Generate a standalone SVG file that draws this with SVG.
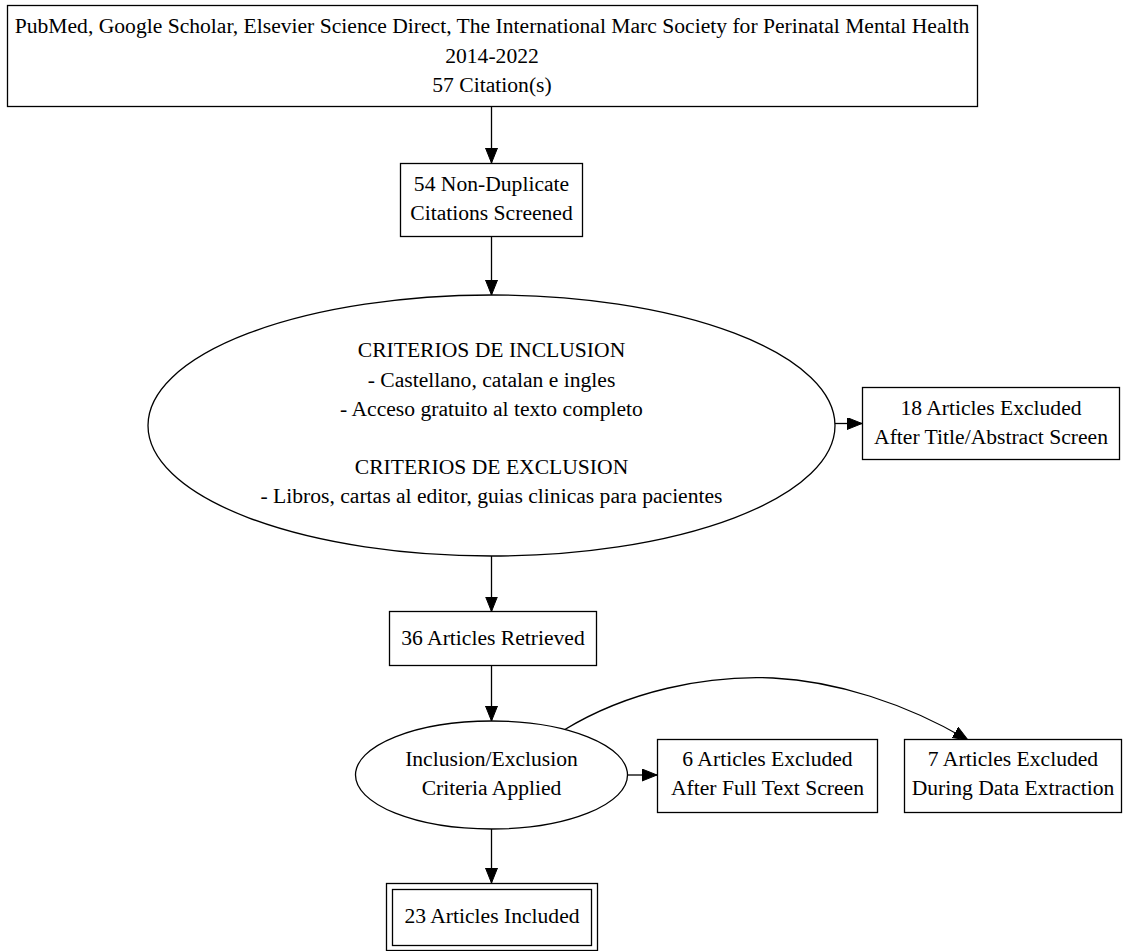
<svg xmlns="http://www.w3.org/2000/svg" width="1129" height="951" viewBox="0 0 1129 951">
<style>
.n{fill:#ffffff;stroke:#000000;stroke-width:1.3}
.t{font-family:"Liberation Serif","Times New Roman",serif;font-size:21.6px;fill:#000000;text-anchor:middle}
.e{fill:none;stroke:#000000;stroke-width:1.3;marker-end:url(#ah)}
</style>
<defs>
<marker id="ah" markerUnits="userSpaceOnUse" markerWidth="16" markerHeight="13" refX="15" refY="6" orient="auto">
<path d="M0,0 L15,6 L0,12 Z" fill="#000000" stroke="#000000" stroke-width="1"/>
</marker>
</defs>
<rect width="1129" height="951" fill="#ffffff"/>
<g id="connectors">
<path class="e" d="M491.5,106.5 L491.5,163"/>
<path class="e" d="M491.5,236.5 L491.5,295"/>
<path class="e" d="M835,423.5 L862,423.5"/>
<path class="e" d="M491.5,556 L491.5,611.5"/>
<path class="e" d="M491.5,666 L491.5,721"/>
<path class="e" d="M627,775 L657,775"/>
<path class="e" d="M564,730 C628,691 706,675 773,678 C835,681 905,703 968,740"/>
<path class="e" d="M491.5,829 L491.5,883"/>
</g>
<g id="node-sources">
<rect class="n" x="7.5" y="5.5" width="970" height="101"/>
<text class="t" x="492" y="33">PubMed, Google Scholar, Elsevier Science Direct, The International Marc Society for Perinatal Mental Health</text>
<text class="t" x="492" y="63">2014-2022</text>
<text class="t" x="492" y="92">57 Citation(s)</text>
</g>
<g id="node-screened">
<rect class="n" x="400.5" y="163.5" width="182" height="73"/>
<text class="t" x="491.5" y="191">54 Non-Duplicate</text>
<text class="t" x="491.5" y="220">Citations Screened</text>
</g>
<g id="node-criteria">
<ellipse class="n" cx="491.5" cy="425.5" rx="343.5" ry="130.5"/>
<text class="t" x="491.5" y="357">CRITERIOS DE INCLUSION</text>
<text class="t" x="491.5" y="386.5">- Castellano, catalan e ingles</text>
<text class="t" x="491.5" y="416">- Acceso gratuito al texto completo</text>
<text class="t" x="491.5" y="474">CRITERIOS DE EXCLUSION</text>
<text class="t" x="491.5" y="503">- Libros, cartas al editor, guias clinicas para pacientes</text>
</g>
<g id="node-excl18">
<rect class="n" x="862.5" y="387.5" width="257" height="72"/>
<text class="t" x="991" y="414.5">18 Articles Excluded</text>
<text class="t" x="991" y="443.5">After Title/Abstract Screen</text>
</g>
<g id="node-retrieved">
<rect class="n" x="389.5" y="611.5" width="207" height="54"/>
<text class="t" x="493" y="645">36 Articles Retrieved</text>
</g>
<g id="node-applied">
<ellipse class="n" cx="491.5" cy="775" rx="136" ry="54"/>
<text class="t" x="491.5" y="765.5">Inclusion/Exclusion</text>
<text class="t" x="491.5" y="795">Criteria Applied</text>
</g>
<g id="node-excl6">
<rect class="n" x="657.5" y="739.5" width="220" height="73"/>
<text class="t" x="767.5" y="766">6 Articles Excluded</text>
<text class="t" x="767.5" y="795">After Full Text Screen</text>
</g>
<g id="node-excl7">
<rect class="n" x="904.5" y="739.5" width="217" height="73"/>
<text class="t" x="1013" y="766">7 Articles Excluded</text>
<text class="t" x="1013" y="795">During Data Extraction</text>
</g>
<g id="node-included">
<rect class="n" x="386.5" y="883.5" width="211" height="67"/>
<rect class="n" x="392.5" y="889.5" width="199" height="56"/>
<text class="t" x="492" y="922.5">23 Articles Included</text>
</g>
</svg>
